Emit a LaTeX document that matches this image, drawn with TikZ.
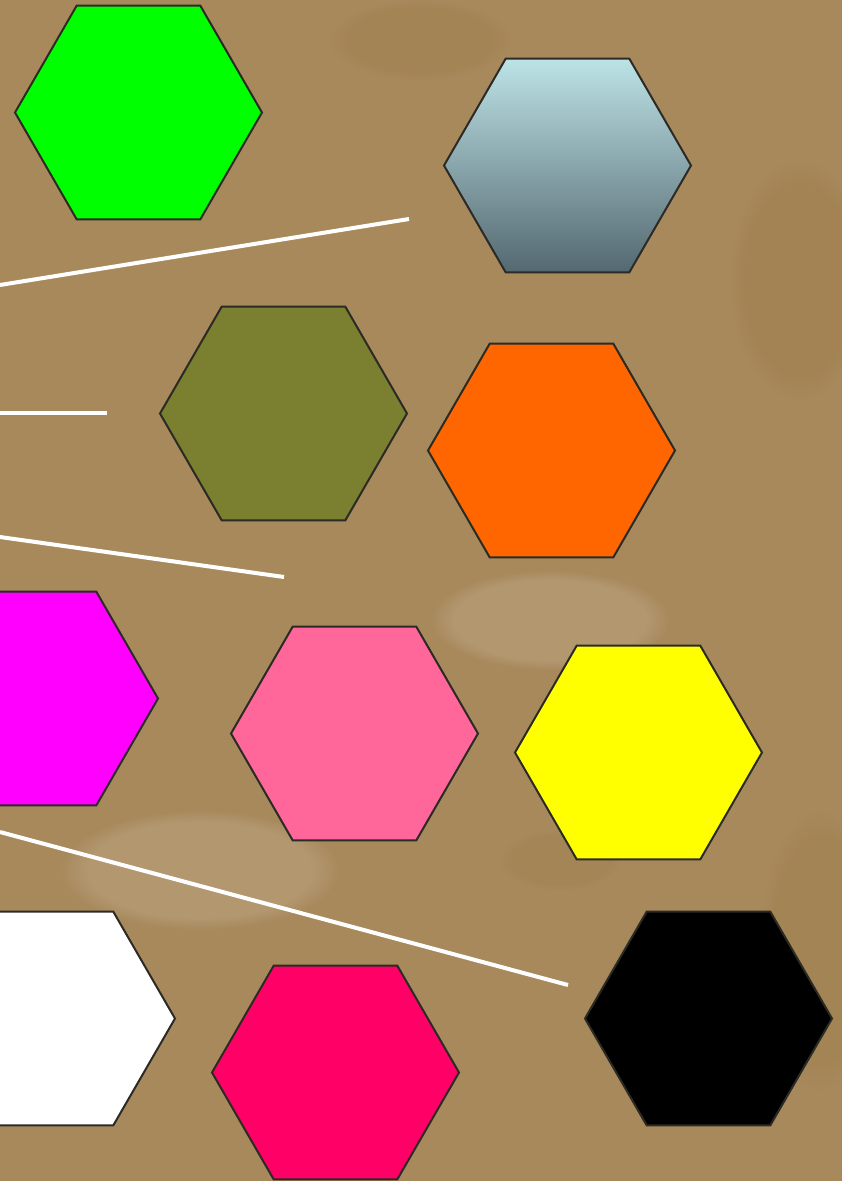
\documentclass[tikz,border=0pt]{standalone}
\usetikzlibrary{shapes.geometric,fadings}
\definecolor{bg}{HTML}{A8895C}
\definecolor{bgdark}{HTML}{9A7A45}
\definecolor{edge}{HTML}{2B2A25}
\definecolor{hgreen}{HTML}{00FF00}
\definecolor{htop}{HTML}{BDE3E6}
\definecolor{hbot}{HTML}{546870}
\definecolor{holive}{HTML}{7A8030}
\definecolor{horange}{HTML}{FF6600}
\definecolor{hmagenta}{HTML}{FF00FF}
\definecolor{hpink}{HTML}{FF6699}
\definecolor{hyellow}{HTML}{FFFF00}
\definecolor{hwhite}{HTML}{FFFFFF}
\definecolor{hcrimson}{HTML}{FF0066}
\definecolor{hblack}{HTML}{000000}
\tikzset{
  hexa/.style={regular polygon, regular polygon sides=6, minimum size=247pt,
    inner sep=0pt, outer sep=0pt, draw=edge, line width=2pt},
  wline/.style={draw=white, line width=4pt},
  blot/.style={path fading=circle with fuzzy edge 20 percent}
}
\begin{document}
\begin{tikzpicture}[x=1pt,y=-1pt]
\fill[bg] (0,0) rectangle (842,1181);
\useasboundingbox (0,0) rectangle (842,1181);
% subtle texture blotches
\begin{scope}
\clip (0,0) rectangle (842,1181);
\fill[bgdark, opacity=0.35, blot] (800,280) ellipse (70 and 120);
\fill[bgdark, opacity=0.3, blot] (420,40) ellipse (90 and 40);
\fill[bgdark, opacity=0.3, blot] (820,950) ellipse (60 and 140);
\fill[bgdark, opacity=0.25, blot] (560,860) ellipse (60 and 30);
\fill[white, opacity=0.12, blot] (200,870) ellipse (140 and 60);
\fill[white, opacity=0.12, blot] (550,620) ellipse (120 and 50);
\end{scope}
% lines
\coordinate (l1a) at (0,285); \coordinate (l1b) at (409,219);
\coordinate (l2a) at (0,413); \coordinate (l2b) at (107,413);
\coordinate (l3a) at (0,537); \coordinate (l3b) at (284,577);
\coordinate (l4a) at (0,832); \coordinate (l4b) at (568,985);
\draw[wline] (l1a) -- (l1b);
\draw[wline] (l2a) -- (l2b);
\draw[wline] (l3a) -- (l3b);
\draw[wline] (l4a) -- (l4b);
% hexagons
\node[hexa, fill=hgreen] (h1) at (138.5,112.5) {};
\node[hexa, top color=htop, bottom color=hbot] (h2) at (567.5,165.5) {};
\node[hexa, fill=holive] (h3) at (283.5,413.5) {};
\node[hexa, fill=horange] (h4) at (551.5,450.5) {};
\node[hexa, fill=hmagenta] (h5) at (34.5,698.5) {};
\node[hexa, fill=hpink] (h6) at (354.5,733.5) {};
\node[hexa, fill=hyellow] (h7) at (638.5,752.5) {};
\node[hexa, fill=hwhite] (h8) at (51.5,1018.5) {};
\node[hexa, fill=hcrimson] (h9) at (335.5,1072.5) {};
\node[hexa, fill=hblack] (h10) at (708.5,1018.5) {};
\end{tikzpicture}
\end{document}
